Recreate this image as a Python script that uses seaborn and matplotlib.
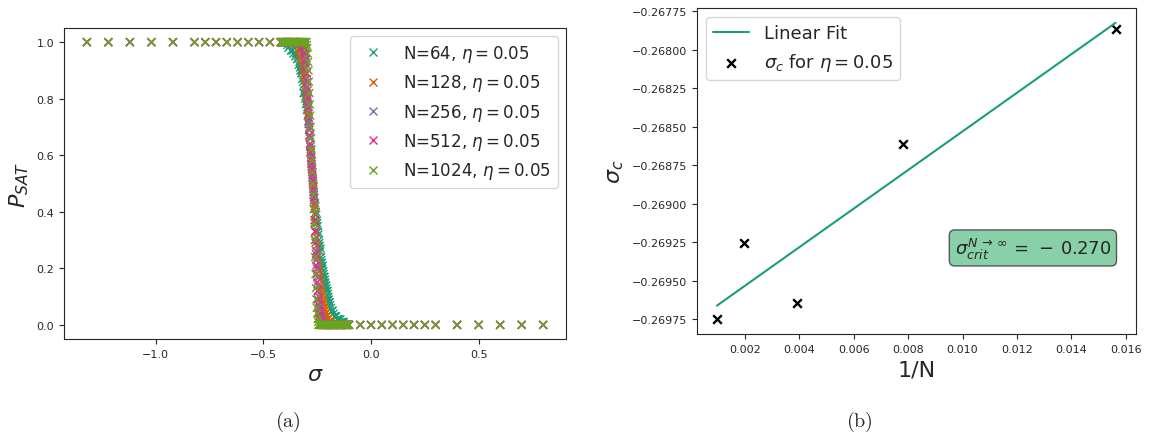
import numpy as np
import pandas as pd
import matplotlib
matplotlib.use("Agg")
import matplotlib.pyplot as plt
import seaborn as sns
from matplotlib.ticker import MultipleLocator

# ---------------------------------------------------------------- data
sizes = [64, 128, 256, 512, 1024]
eta = 0.05

# coarse sigma grid far from the transition (same for every N)
sigma_far_low = [-1.32, -1.22, -1.12, -1.02, -0.92, -0.82, -0.77, -0.72,
                 -0.67, -0.62, -0.57, -0.52, -0.47]
p_far_low = [1.0, 1.0, 1.0, 1.0, 1.0, 1.0, 1.0, 1.0, 1.0, 1.0, 1.0, 1.0, 1.0]
sigma_far_high = [-0.05, 0.00, 0.05, 0.10, 0.15, 0.20, 0.25, 0.30,
                  0.40, 0.50, 0.60, 0.70, 0.80]
p_far_high = [0.0, 0.0, 0.0, 0.0, 0.0, 0.0, 0.0, 0.0, 0.0, 0.0, 0.0, 0.0, 0.0]

# fine sigma grid around the SAT/UNSAT transition
sigma_fine = [
    -0.420, -0.416, -0.412, -0.408, -0.404, -0.400, -0.396, -0.392, -0.388, -0.384, -0.380,
    -0.376, -0.372, -0.368, -0.364, -0.360, -0.356, -0.352, -0.348, -0.344, -0.340, -0.336,
    -0.332, -0.330, -0.328, -0.326, -0.324, -0.322, -0.320, -0.318, -0.316, -0.314, -0.312, -0.310,
    -0.308, -0.306, -0.304, -0.302, -0.300, -0.298, -0.296, -0.294, -0.292, -0.290, -0.288, -0.286,
    -0.284, -0.282, -0.280, -0.278, -0.276, -0.274, -0.272, -0.270, -0.268, -0.266, -0.264, -0.262,
    -0.260, -0.258, -0.256, -0.254, -0.252, -0.250, -0.248, -0.246, -0.244, -0.242, -0.240, -0.238,
    -0.236, -0.234, -0.232, -0.230, -0.228, -0.226, -0.224, -0.222, -0.220, -0.218, -0.216, -0.214,
    -0.212, -0.210, -0.208, -0.206, -0.204, -0.202, -0.200, -0.198, -0.196, -0.194, -0.192, -0.190,
    -0.186, -0.182, -0.178, -0.174, -0.170, -0.166, -0.162, -0.158, -0.154, -0.150, -0.146,
    -0.142, -0.138, -0.134, -0.130, -0.126, -0.122, -0.118, -0.114, -0.110, -0.106, -0.102,
]

p_sat_64 = [
    1.00, 1.00, 1.00, 1.00, 1.00, 1.00, 1.00, 1.00, 0.99, 0.98, 1.00,
    0.99, 0.97, 0.99, 0.97, 0.96, 0.98, 0.95, 0.96, 0.94, 0.95, 0.92,
    0.93, 0.91, 0.90, 0.92, 0.89, 0.90, 0.87, 0.90, 0.86, 0.82, 0.85, 0.82,
    0.83, 0.80, 0.81, 0.78, 0.79, 0.76, 0.77, 0.74, 0.72, 0.71, 0.69, 0.67,
    0.66, 0.63, 0.62, 0.60, 0.58, 0.56, 0.54, 0.52, 0.50, 0.49, 0.46, 0.45,
    0.43, 0.42, 0.40, 0.39, 0.37, 0.36, 0.35, 0.33, 0.32, 0.30, 0.29, 0.28,
    0.26, 0.27, 0.24, 0.23, 0.22, 0.20, 0.21, 0.19, 0.18, 0.17, 0.17, 0.16,
    0.15, 0.14, 0.14, 0.13, 0.12, 0.12, 0.11, 0.10, 0.09, 0.08, 0.08, 0.07,
    0.06, 0.05, 0.05, 0.04, 0.03, 0.03, 0.03, 0.02, 0.02, 0.02, 0.01,
    0.02, 0.01, 0.01, 0.01, 0.01, 0.00, 0.00, 0.00, 0.00, 0.00, 0.00,
]
p_sat_128 = [
    1.00, 1.00, 1.00, 1.00, 1.00, 1.00, 1.00, 1.00, 1.00, 1.00, 1.00,
    1.00, 1.00, 1.00, 1.00, 1.00, 1.00, 1.00, 1.00, 0.99, 1.00, 0.98,
    0.98, 0.97, 0.98, 0.96, 0.95, 0.96, 0.94, 0.93, 0.94, 0.91, 0.92, 0.89,
    0.88, 0.87, 0.85, 0.84, 0.82, 0.80, 0.79, 0.76, 0.74, 0.72, 0.69, 0.67,
    0.64, 0.61, 0.62, 0.57, 0.56, 0.55, 0.52, 0.51, 0.49, 0.47, 0.43, 0.42,
    0.39, 0.36, 0.33, 0.31, 0.28, 0.26, 0.24, 0.22, 0.20, 0.19, 0.17, 0.16,
    0.14, 0.13, 0.12, 0.11, 0.10, 0.09, 0.08, 0.08, 0.07, 0.06, 0.05, 0.05,
    0.04, 0.04, 0.03, 0.03, 0.02, 0.02, 0.02, 0.01, 0.01, 0.01, 0.00, 0.00,
    0.01, 0.00, 0.00, 0.00, 0.00, 0.00, 0.00, 0.00, 0.00, 0.00, 0.00,
    0.00, 0.00, 0.00, 0.00, 0.00, 0.00, 0.00, 0.00, 0.00, 0.00, 0.00,
]
p_sat_256 = [
    1.00, 1.00, 1.00, 1.00, 1.00, 1.00, 1.00, 1.00, 1.00, 1.00, 1.00,
    1.00, 1.00, 1.00, 1.00, 1.00, 1.00, 1.00, 1.00, 1.00, 1.00, 1.00,
    1.00, 1.00, 1.00, 0.99, 1.00, 0.99, 1.00, 0.99, 0.98, 0.99, 0.98, 0.97,
    0.96, 0.95, 0.93, 0.91, 0.89, 0.87, 0.84, 0.81, 0.78, 0.75, 0.72, 0.69,
    0.66, 0.63, 0.61, 0.58, 0.56, 0.54, 0.52, 0.50, 0.47, 0.44, 0.41, 0.37,
    0.33, 0.30, 0.26, 0.23, 0.20, 0.17, 0.14, 0.12, 0.10, 0.08, 0.06, 0.05,
    0.04, 0.03, 0.02, 0.02, 0.01, 0.01, 0.00, 0.00, 0.00, 0.00, 0.00, 0.00,
    0.00, 0.00, 0.00, 0.00, 0.00, 0.00, 0.00, 0.00, 0.00, 0.00, 0.00, 0.00,
    0.00, 0.00, 0.00, 0.00, 0.00, 0.00, 0.00, 0.00, 0.00, 0.00, 0.00,
    0.00, 0.00, 0.00, 0.00, 0.00, 0.00, 0.00, 0.00, 0.00, 0.00, 0.00,
]
p_sat_512 = [
    1.00, 1.00, 1.00, 1.00, 1.00, 1.00, 1.00, 1.00, 1.00, 1.00, 1.00,
    1.00, 1.00, 1.00, 1.00, 1.00, 1.00, 1.00, 1.00, 1.00, 1.00, 1.00,
    1.00, 1.00, 1.00, 1.00, 1.00, 1.00, 1.00, 0.99, 1.00, 0.99, 1.00, 0.98,
    0.99, 0.97, 0.96, 0.94, 0.92, 0.89, 0.86, 0.83, 0.80, 0.77, 0.73, 0.70,
    0.67, 0.64, 0.61, 0.59, 0.57, 0.55, 0.53, 0.51, 0.48, 0.45, 0.41, 0.37,
    0.33, 0.29, 0.25, 0.21, 0.18, 0.15, 0.12, 0.09, 0.07, 0.05, 0.04, 0.03,
    0.02, 0.01, 0.01, 0.00, 0.00, 0.00, 0.00, 0.00, 0.00, 0.00, 0.00, 0.00,
    0.00, 0.00, 0.00, 0.00, 0.00, 0.00, 0.00, 0.00, 0.00, 0.00, 0.00, 0.00,
    0.00, 0.00, 0.00, 0.00, 0.00, 0.00, 0.00, 0.00, 0.00, 0.00, 0.00,
    0.00, 0.00, 0.00, 0.00, 0.00, 0.00, 0.00, 0.00, 0.00, 0.00, 0.00,
]
p_sat_1024 = [
    1.00, 1.00, 1.00, 1.00, 1.00, 1.00, 1.00, 1.00, 1.00, 1.00, 1.00,
    1.00, 1.00, 1.00, 1.00, 1.00, 1.00, 1.00, 1.00, 1.00, 1.00, 1.00,
    1.00, 1.00, 1.00, 1.00, 1.00, 1.00, 1.00, 1.00, 1.00, 1.00, 1.00, 1.00,
    1.00, 1.00, 1.00, 1.00, 1.00, 0.99, 0.98, 0.96, 0.93, 0.90, 0.86, 0.82,
    0.78, 0.74, 0.70, 0.66, 0.62, 0.58, 0.54, 0.50, 0.46, 0.41, 0.36, 0.30,
    0.24, 0.18, 0.13, 0.09, 0.06, 0.04, 0.02, 0.01, 0.00, 0.00, 0.00, 0.00,
    0.00, 0.00, 0.00, 0.00, 0.00, 0.00, 0.00, 0.00, 0.00, 0.00, 0.00, 0.00,
    0.00, 0.00, 0.00, 0.00, 0.00, 0.00, 0.00, 0.00, 0.00, 0.00, 0.00, 0.00,
    0.00, 0.00, 0.00, 0.00, 0.00, 0.00, 0.00, 0.00, 0.00, 0.00, 0.00,
    0.00, 0.00, 0.00, 0.00, 0.00, 0.00, 0.00, 0.00, 0.00, 0.00, 0.00,
]
p_sat = [p_sat_64, p_sat_128, p_sat_256, p_sat_512, p_sat_1024]

# critical sigma (P_SAT = 0.5) for each N
sigma_crit = [-0.267865, -0.268611, -0.269646, -0.269255, -0.269750]

# ---------------------------------------------------------------- style
sns.set_style("ticks")
palette = sns.color_palette("Dark2", len(sizes))

fig = plt.figure(figsize=(11.54, 4.39), dpi=100)
ax1 = fig.add_axes([0.0555, 0.2255, 0.435, 0.7084])
ax2 = fig.add_axes([0.604, 0.2369, 0.380, 0.7426])

# ---------------------------------------------------------------- (a) P_SAT vs sigma
labels = [f"N={n}, $\\eta={eta}$" for n in sizes]
frames = []
for lab, p in zip(labels, p_sat):
    frames.append(pd.DataFrame({
        "sigma": sigma_far_low + sigma_fine + sigma_far_high,
        "p": p_far_low + p + p_far_high,
        "series": lab,
    }))
df = pd.concat(frames, ignore_index=True)

sns.scatterplot(data=df, x="sigma", y="p", hue="series", hue_order=labels,
                palette=palette, marker="x", s=32, linewidth=1.0, ax=ax1)
sns.move_legend(ax1, "upper right", title=None, fontsize=12)
ax1.set_xlabel(r"$\sigma$", fontsize=16)
ax1.set_ylabel(r"$P_{SAT}$", fontsize=16)
ax1.tick_params(labelsize=8)

# ---------------------------------------------------------------- (b) finite-size scaling
inv_n = 1.0 / np.array(sizes, dtype=float)
slope, intercept = np.polyfit(inv_n, sigma_crit, 1)
fit_line = slope * inv_n + intercept

sns.lineplot(x=inv_n, y=fit_line, color=palette[0], lw=1.5, label="Linear Fit", ax=ax2)
sns.scatterplot(x=inv_n, y=sigma_crit, marker="x", color="black", s=38, linewidth=1.7,
                label=r"$\sigma_c$ for $\eta=0.05$", ax=ax2)
ax2.legend(loc="upper left", fontsize=13)
ax2.set_xlabel("1/N", fontsize=16)
ax2.set_ylabel(r"$\sigma_c$", fontsize=16)
ax2.tick_params(labelsize=8)
ax2.xaxis.set_major_locator(MultipleLocator(0.002))
ax2.yaxis.set_major_locator(MultipleLocator(0.00025))

crit_txt = f"{intercept:.3f}".replace("-", r"-\,")
ax2.text(0.766, 0.264,
         r"$\sigma_{crit}^{N\,\rightarrow\,\infty}\,=\," + crit_txt + "$",
         transform=ax2.transAxes, ha="center", va="center", fontsize=13,
         bbox=dict(boxstyle="round,pad=0.3", facecolor="#88d1a8",
                   edgecolor="#555555", linewidth=1.0))

# ---------------------------------------------------------------- captions
fig.text(0.2496, 0.0387, r"$\mathrm{(a)}$", math_fontfamily="cm",
         fontsize=14.5, ha="center", va="center")
fig.text(0.745, 0.0387, r"$\mathrm{(b)}$", math_fontfamily="cm",
         fontsize=14.5, ha="center", va="center")

fig.savefig("out.png", dpi=100)
